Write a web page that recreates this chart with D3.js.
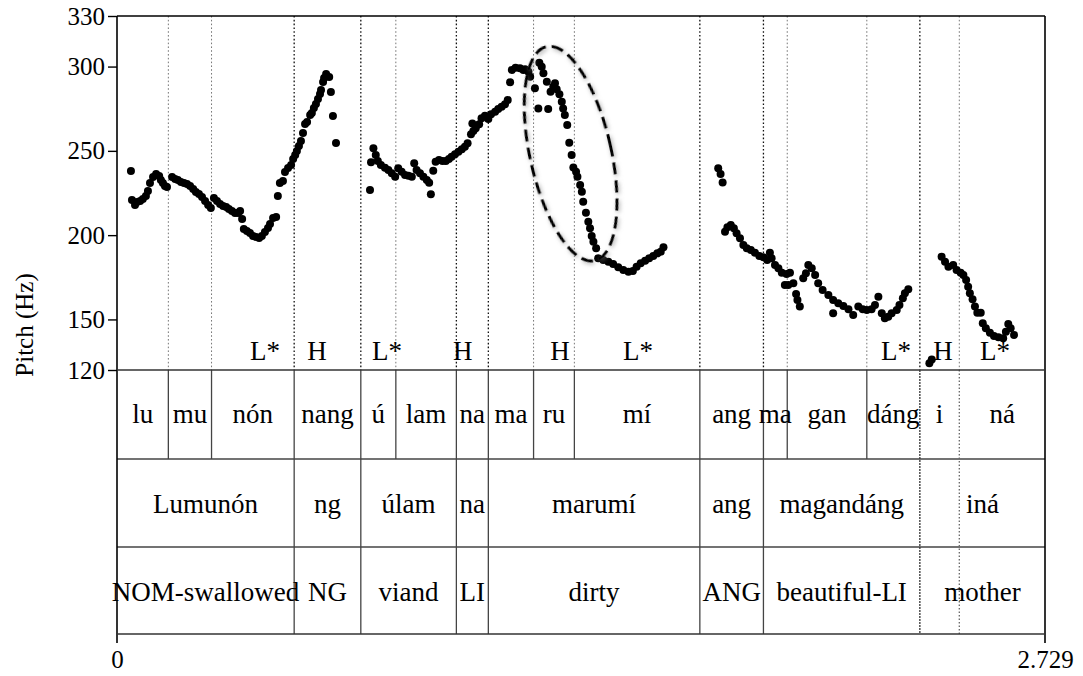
<!DOCTYPE html>
<html>
<head>
<meta charset="utf-8">
<script src="https://cdn.jsdelivr.net/npm/d3@7"></script>
<style>
  body { margin: 0; background: #fff; }
  text { font-family: "Liberation Serif", "Times New Roman", serif; fill: #000; }
</style>
</head>
<body>
<svg id="chart" width="1083" height="676"></svg>
<script>
// Pitch track (time in s, F0 in Hz)
const pitchTime = [
  0.041,0.044,0.053,0.059,0.068,0.076,0.085,0.091,0.097,0.106,0.115,0.124,0.129,0.135,0.141,0.147,
  0.162,0.171,0.179,0.188,0.197,0.206,0.215,0.224,0.232,0.241,0.250,0.259,0.268,0.276,
  0.285,0.294,0.303,0.312,0.321,0.329,0.338,0.347,0.356,0.362,0.368,
  0.373,0.382,0.391,0.400,0.409,0.418,0.426,0.435,0.444,0.450,0.459,0.468,
  0.473,0.479,0.488,0.494,0.503,0.512,0.518,0.524,0.529,0.535,0.541,0.547,0.553,0.559,0.568,0.573,
  0.579,0.585,0.591,0.597,0.600,0.606,0.609,0.615,0.624,0.629,0.635,0.644,
  0.744,0.747,0.754,0.761,0.767,0.776,0.788,0.798,0.808,0.818,0.827,0.837,0.847,0.857,0.867,0.874,
  0.881,0.891,0.901,0.911,0.918,0.923,0.930,0.937,0.947,0.957,0.967,0.976,0.984,0.994,1.004,1.014,
  1.023,1.031,1.041,1.045,1.048,1.055,1.065,1.072,1.082,1.092,1.100,1.112,1.121,1.131,1.141,1.149,
  1.156,1.161,1.172,1.185,1.195,1.200,1.210,1.215,1.229,1.239,1.268,
  1.242,1.249,1.254,1.264,1.275,1.283,1.288,1.293,1.301,1.308,1.312,1.317,1.324,1.330,1.337,1.342,
  1.350,1.354,1.362,1.367,1.371,1.379,1.386,1.391,1.396,1.401,1.409,
  1.415,1.430,1.445,1.459,1.474,1.489,1.504,1.517,1.528,1.540,1.553,1.565,1.577,1.589,1.599,1.607,
  1.768,1.775,1.781,
  1.788,1.795,1.805,1.814,1.822,1.832,1.842,1.852,1.864,1.876,1.889,1.901,1.912,1.920,1.925,1.935,
  1.945,1.955,1.969,1.979,1.964,1.974,1.989,1.997,2.001,2.008,
  2.018,2.026,2.033,2.043,2.053,2.062,2.075,2.092,2.106,2.106,2.121,2.136,2.151,2.165,2.180,2.193,
  2.205,2.219,2.229,2.239,2.249,2.258,2.268,2.278,2.293,2.301,2.311,2.317,2.327,
  2.389,2.396,
  2.425,2.435,2.445,2.459,2.469,2.481,2.489,2.497,2.503,2.508,2.516,2.523,2.530,2.540,
  2.546,2.555,2.567,2.579,2.592,2.606,2.614,2.621,2.628,2.638
];
const pitchHz = [
  238.1,220.9,217.9,219.7,220.3,221.4,223.2,226.2,230.9,234.5,236.3,235.1,232.7,230.9,229.2,228.6,
  234.5,233.3,232.7,231.5,230.9,230.3,229.2,227.4,225.6,224.4,222.6,220.3,217.9,216.1,
  222.0,220.3,218.5,217.3,216.7,215.5,214.3,213.1,213.1,214.3,209.6,
  203.6,202.5,201.3,199.5,198.9,198.3,199.5,201.9,204.2,206.6,210.2,210.8,
  223.2,230.9,232.1,237.5,239.8,241.6,245.2,247.5,249.9,252.9,255.8,260.6,265.9,267.1,271.3,272.5,
  275.4,277.8,280.8,283.7,286.1,290.8,293.2,295.6,293.8,284.9,270.7,254.7,
  226.8,243.2,251.5,247.5,244.0,241.6,240.0,238.6,236.7,234.7,239.7,237.6,235.7,235.3,234.7,242.6,
  238.6,236.7,234.7,232.7,231.1,224.2,238.2,243.6,244.6,244.0,244.0,245.2,246.5,248.0,249.5,250.9,
  252.5,254.5,259.8,266.3,261.8,263.4,265.8,269.3,270.9,268.9,271.7,273.2,274.8,276.2,277.6,280.2,
  290.7,298.0,299.3,299.0,298.0,298.4,297.0,294.0,287.1,275.2,274.8,
  302.3,299.9,296.0,291.0,285.1,288.1,290.1,286.5,283.6,279.2,275.2,271.3,265.3,254.8,247.5,240.2,
  237.6,234.7,229.7,225.8,219.8,213.3,208.0,204.1,199.5,196.1,192.2,
  186.3,185.3,184.2,182.9,180.9,179.3,178.3,178.7,181.3,183.3,184.8,186.3,187.6,189.2,190.2,192.8,
  239.7,236.3,231.3,
  202.0,204.7,206.0,204.1,201.1,198.1,194.2,192.2,191.2,189.6,187.6,186.9,185.3,189.6,186.3,182.3,
  180.3,177.7,176.9,177.7,170.4,170.4,171.4,165.1,161.5,157.6,
  174.4,177.4,182.3,180.3,176.4,171.4,167.5,164.5,161.5,153.6,159.6,158.0,156.0,152.6,157.6,156.0,
  155.6,156.0,158.6,163.5,153.6,150.7,151.6,153.6,155.6,158.6,162.5,165.5,167.9,
  124.0,126.3,
  187.2,184.2,181.3,182.3,179.3,177.7,176.4,173.4,169.4,165.5,161.9,157.6,154.0,154.0,
  147.7,144.7,142.1,140.2,139.4,138.8,142.7,147.3,144.7,140.8
];

// Annotation tiers
const syllables = ["lu","mu","nón","nang","ú","lam","na","ma","ru","mí","ang","ma","gan","dáng","i","ná"];
const syllableBounds = [0,0.151,0.278,0.521,0.717,0.820,0.998,1.092,1.225,1.345,1.714,1.901,1.971,2.205,2.361,2.477,2.729];
const words = ["Lumunón","ng","úlam","na","marumí","ang","magandáng","iná"];
const glosses = ["NOM-swallowed","NG","viand","LI","dirty","ANG","beautiful-LI","mother"];
const wordBounds = [0,0.521,0.717,0.998,1.092,1.714,1.901,2.361,2.729];
const dottedBounds = [2.361,2.477];

// Tonal targets
const tones = ["L*","H","L*","H","H","L*","L*","H","L*"];
const toneTimes = [0.435,0.588,0.794,1.017,1.303,1.532,2.291,2.429,2.582];

// Axis ticks
const yTicks = [120,150,200,250,300,330];
const xTicks = [0,2.729];

// Highlighted falling region (centre in s / Hz)
const fallCentre = [1.334, 248.3];

const svg = d3.select("#chart");
const plotLeft = 117, plotRight = 1045, plotTop = 16, pitchBottom = 370;
const tierLines = [370, 459, 547, 634];
const plotBottom = tierLines[3];

const x = d3.scaleLinear().domain([0, 2.729]).range([plotLeft, plotRight]);
const y = d3.scaleLinear().domain([120, 330]).range([pitchBottom, plotTop]);

const defs = svg.append("defs");
const shadow = defs.append("filter").attr("id", "soft").attr("x", "-30%").attr("y", "-30%").attr("width", "160%").attr("height", "160%");
shadow.append("feDropShadow").attr("dx", 1).attr("dy", 2).attr("stdDeviation", 2)
  .attr("flood-color", "#777").attr("flood-opacity", 0.6);

// Boundary lines inside the pitch panel
const wordSet = new Set(wordBounds.map(d => d.toFixed(3)));
svg.append("g").selectAll("line")
  .data(syllableBounds.slice(1, -1))
  .join("line")
  .attr("x1", d => x(d)).attr("x2", d => x(d))
  .attr("y1", plotTop).attr("y2", pitchBottom)
  .attr("stroke", d => wordSet.has(d.toFixed(3)) ? "#111" : "#777")
  .attr("stroke-width", d => wordSet.has(d.toFixed(3)) ? 1.3 : 1)
  .attr("stroke-dasharray", "1.6,2.2");

// Tier grid
const grid = svg.append("g").attr("stroke", "#444").attr("stroke-width", 1.3);
grid.selectAll("line.h")
  .data(tierLines.slice(1, 3))
  .join("line").attr("class", "h")
  .attr("x1", plotLeft).attr("x2", plotRight).attr("y1", d => d).attr("y2", d => d);

grid.selectAll("line.syl")
  .data(syllableBounds.slice(1, -1).filter(d => !dottedBounds.includes(d)))
  .join("line").attr("class", "syl")
  .attr("x1", d => x(d)).attr("x2", d => x(d))
  .attr("y1", tierLines[0]).attr("y2", tierLines[1]);

grid.selectAll("line.wd")
  .data(wordBounds.slice(1, -1).filter(d => !dottedBounds.includes(d)))
  .join("line").attr("class", "wd")
  .attr("x1", d => x(d)).attr("x2", d => x(d))
  .attr("y1", tierLines[1]).attr("y2", tierLines[3]);

grid.selectAll("line.dot")
  .data(dottedBounds)
  .join("line").attr("class", "dot")
  .attr("x1", d => x(d)).attr("x2", d => x(d))
  .attr("y1", tierLines[0]).attr("y2", tierLines[3])
  .attr("stroke", (d, i) => i === 0 ? "#333" : "#666")
  .attr("stroke-dasharray", (d, i) => i === 0 ? "2,1" : "1.5,2");

// Tier labels
function tierText(labels, bounds, baseline) {
  svg.append("g").selectAll("text")
    .data(labels)
    .join("text")
    .attr("x", (d, i) => x((bounds[i] + bounds[i + 1]) / 2))
    .attr("y", baseline)
    .attr("text-anchor", "middle")
    .attr("font-size", 27)
    .text(d => d);
}
tierText(syllables, syllableBounds, 423);
tierText(words, wordBounds, 513);
tierText(glosses, wordBounds, 601);

// Tone labels
svg.append("g").selectAll("text")
  .data(tones)
  .join("text")
  .attr("x", (d, i) => x(toneTimes[i]))
  .attr("y", 360)
  .attr("text-anchor", "middle")
  .attr("font-size", 27)
  .text(d => d);

// Pitch points
svg.append("g").selectAll("circle")
  .data(pitchTime.map((t, i) => [t, pitchHz[i]]))
  .join("circle")
  .attr("cx", d => x(d[0]))
  .attr("cy", d => y(d[1]))
  .attr("r", 4)
  .attr("fill", "#000");

// Dashed ellipse around the fall
svg.append("ellipse")
  .attr("transform", `translate(${x(fallCentre[0])},${y(fallCentre[1])}) rotate(-12.7)`)
  .attr("rx", 40.6).attr("ry", 109.7)
  .attr("fill", "none")
  .attr("stroke", "#000")
  .attr("stroke-width", 3)
  .attr("stroke-dasharray", "12,6")
  .attr("filter", "url(#soft)");

// Frame
const frame = svg.append("g").attr("stroke", "#000").attr("stroke-width", 1.6).attr("fill", "none");
frame.append("line").attr("x1", plotLeft).attr("x2", plotRight).attr("y1", plotTop).attr("y2", plotTop);
frame.append("line").attr("x1", plotRight).attr("x2", plotRight).attr("y1", plotTop).attr("y2", plotBottom + 9);
frame.append("line").attr("x1", plotLeft).attr("x2", plotLeft).attr("y1", plotTop).attr("y2", plotBottom + 9);
frame.append("line").attr("x1", plotLeft).attr("x2", plotRight).attr("y1", pitchBottom).attr("y2", pitchBottom).attr("stroke", "#333");
frame.append("line").attr("x1", plotLeft).attr("x2", plotRight).attr("y1", plotBottom).attr("y2", plotBottom).attr("stroke", "#333");

// Axes
const yAxis = svg.append("g")
  .attr("transform", `translate(${plotLeft},0)`)
  .call(d3.axisLeft(y).tickValues(yTicks).tickSize(9).tickPadding(3).tickFormat(d3.format("d")));
yAxis.select(".domain").remove();
yAxis.selectAll(".tick line").attr("stroke", "#000").attr("stroke-width", 1.4);
yAxis.selectAll("text").attr("font-size", 25).attr("font-family", "Liberation Serif, serif").attr("fill", "#000");

const xAxis = svg.append("g")
  .attr("transform", `translate(0,${plotBottom})`)
  .call(d3.axisBottom(x).tickValues(xTicks).tickSize(0).tickPadding(16).tickFormat(d => d === 0 ? "0" : d3.format(".3f")(d)));
xAxis.select(".domain").remove();
xAxis.selectAll("text").attr("font-size", 25).attr("font-family", "Liberation Serif, serif").attr("fill", "#000");

// Axis title
svg.append("text")
  .attr("transform", `translate(33,${(plotTop + plotBottom) / 2}) rotate(-90)`)
  .attr("text-anchor", "middle")
  .attr("font-size", 25)
  .text("Pitch (Hz)");
</script>
</body>
</html>
